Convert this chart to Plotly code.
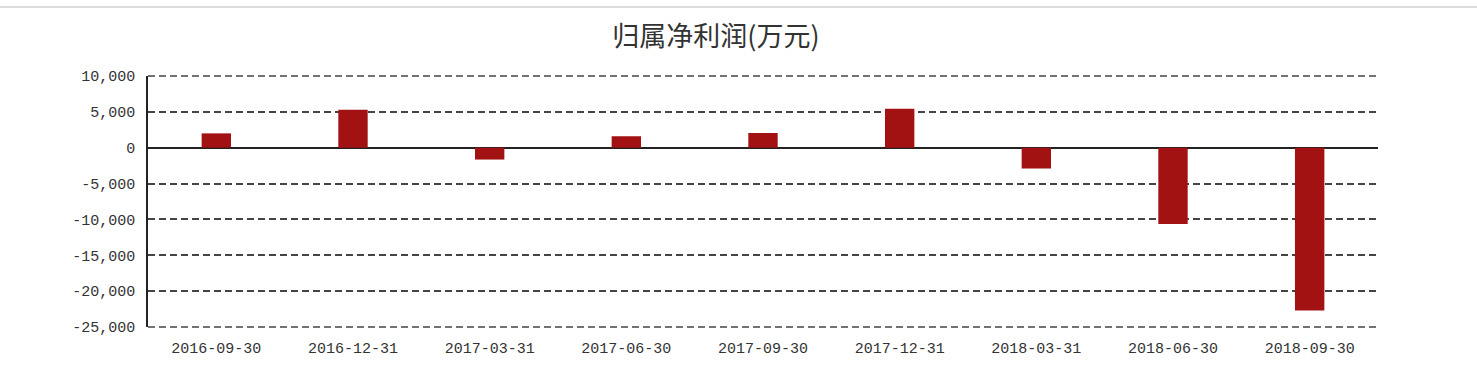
import plotly.graph_objects as go

categories = ["2016-09-30", "2016-12-31", "2017-03-31", "2017-06-30", "2017-09-30",
              "2017-12-31", "2018-03-31", "2018-06-30", "2018-09-30"]
net_profit = [2000, 5300, -1650, 1600, 2050, 5450, -2900, -10650, -22700]
tick_vals = [10000, 5000, 0, -5000, -10000, -15000, -20000, -25000]
tick_text = [f"{v:,}" for v in tick_vals]

W, H = 1477, 376
ml, mr, mt, mb = 148, 99, 76, 49
pw = W - ml - mr
ph = H - mt - mb

fig = go.Figure()
fig.add_trace(go.Bar(
    x=categories, y=net_profit,
    marker=dict(color="#a21212", line=dict(width=0)),
    width=0.215,
    hoverinfo="x+y",
))

# dashed grid lines at the top and bottom of the value range (range edges)
edge_lines = [dict(type="line", xref="paper", yref="paper", x0=0, x1=1, y0=p, y1=p,
                   line=dict(color="#444", width=1.5, dash="7px,4px"), layer="below")
              for p in (0, 1)]

fig.update_layout(
    width=W, height=H,
    margin=dict(l=ml, r=mr, t=mt, b=mb, autoexpand=False),
    paper_bgcolor="white", plot_bgcolor="white",
    showlegend=False,
    title=dict(text="归属净利润(万元)", x=716 / W, xanchor="center", y=1 - 37 / H, yanchor="middle",
               font=dict(family="Noto Sans CJK SC", size=27, color="#333")),
    xaxis=dict(type="category", showgrid=False, showline=False, ticks="", automargin=False,
               ticklabelstandoff=10,
               tickfont=dict(family="Liberation Mono", size=15, color="#333"),
               range=[-0.5, len(categories) - 0.5]),
    yaxis=dict(range=[min(tick_vals), max(tick_vals)], tickvals=tick_vals, ticktext=tick_text,
               automargin=False, ticklabelstandoff=8,
               showgrid=True, gridcolor="#444", griddash="7px,4px", gridwidth=1.5,
               zeroline=True, zerolinecolor="#222", zerolinewidth=1.5,
               showline=True, linecolor="#222", linewidth=1.5,
               ticks="", tickfont=dict(family="Liberation Mono", size=15, color="#333")),
    shapes=[dict(type="line", xref="paper", yref="paper",
                 x0=-ml / pw, x1=(W - ml) / pw, y0=1 + (mt - 7) / ph, y1=1 + (mt - 7) / ph,
                 line=dict(color="#dcdcdc", width=2))] + edge_lines,
)

fig.write_html("out.html", config={"displayModeBar": False},
               post_script="document.body.style.margin='0';")
